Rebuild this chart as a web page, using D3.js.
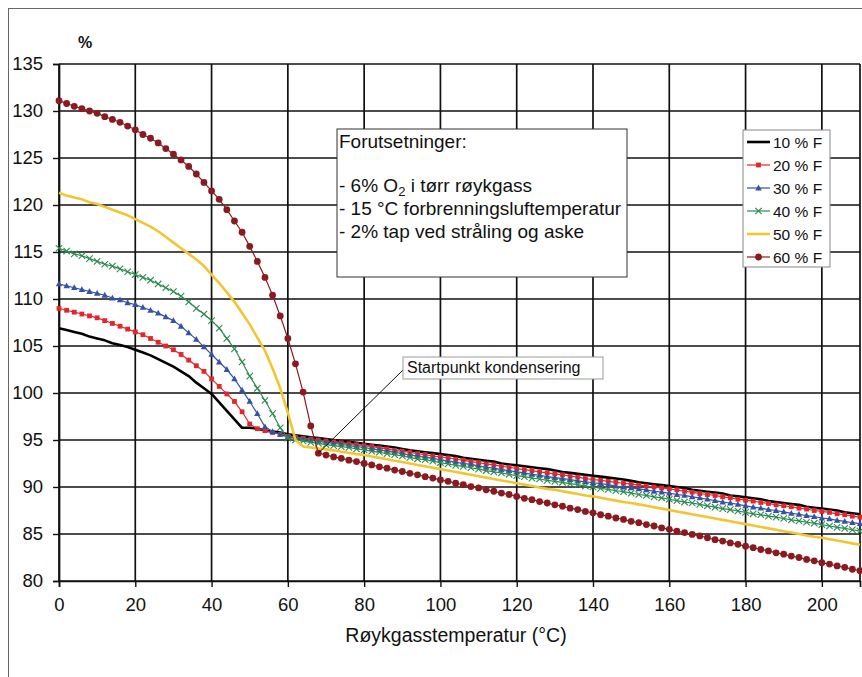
<!DOCTYPE html>
<html>
<head>
<meta charset="utf-8">
<script src="https://cdn.jsdelivr.net/npm/d3@7/dist/d3.min.js"></script>
<style>
  html, body { margin: 0; padding: 0; background: #fff; }
  svg { display: block; font-family: "Liberation Sans", Arial, sans-serif; }
</style>
</head>
<body>
<svg id="chart" width="862" height="677"></svg>
<script>
// Flue gas temperature, °C (one reading every 2 °C)
const temps = d3.range(0, 212, 2);

const yTicks = [80, 85, 90, 95, 100, 105, 110, 115, 120, 125, 130, 135];
const xTicks = [0, 20, 40, 60, 80, 100, 120, 140, 160, 180, 200];

const seriesNames = ["10 % F", "20 % F", "30 % F", "40 % F", "50 % F", "60 % F"];

// Efficiency (%) for each moisture content
const f10 = [106.9, 106.7, 106.5, 106.3, 106.0, 105.8, 105.6, 105.3, 105.1, 104.9, 104.6, 104.3, 104.0, 103.6, 103.2, 102.8, 102.3, 101.8, 101.1, 100.5, 99.9, 99.0, 98.1, 97.2, 96.3, 96.3, 96.2, 96.0, 95.9, 95.8, 95.6,
  95.5, 95.4, 95.3, 95.2, 95.1, 95.0, 94.9, 94.8, 94.7, 94.6, 94.5, 94.4, 94.3, 94.2, 94.05,
  93.9, 93.8, 93.7, 93.6, 93.5, 93.4, 93.3, 93.1, 93.0, 92.9, 92.8, 92.7, 92.5, 92.4, 92.3,
  92.2, 92.1, 92.0, 91.9, 91.75, 91.6, 91.5, 91.4, 91.3, 91.2, 91.1, 91.0, 90.9, 90.8, 90.65,
  90.5, 90.4, 90.3, 90.2, 90.1, 90.0, 89.9, 89.7, 89.6, 89.5, 89.4, 89.3, 89.1, 89.0, 88.9,
  88.8, 88.7, 88.5, 88.4, 88.3, 88.2, 88.1, 87.9, 87.8, 87.7, 87.6, 87.5, 87.3, 87.2, 87.1];

const f20 = [109.0, 108.8, 108.6, 108.4, 108.2, 108.0, 107.7, 107.4, 107.1, 106.8, 106.5, 106.2, 105.8, 105.4, 105.0, 104.6, 104.1, 103.5, 102.9, 102.3, 101.5, 100.7, 99.9, 99.1, 98.0, 96.7, 96.2, 96.0, 95.8, 95.6, 95.4,
  95.3, 95.2, 95.1, 95.0, 94.9, 94.8, 94.7, 94.6, 94.5, 94.4, 94.3, 94.15, 94.05, 93.9, 93.8,
  93.7, 93.55, 93.45, 93.3, 93.2, 93.1, 92.95, 92.85, 92.7, 92.6, 92.45, 92.35, 92.2, 92.1, 91.95,
  91.85, 91.75, 91.6, 91.5, 91.4, 91.3, 91.15, 91.05, 90.9, 90.8, 90.7, 90.6, 90.5, 90.4, 90.3,
  90.2, 90.1, 90.0, 89.9, 89.8, 89.7, 89.55, 89.45, 89.3, 89.2, 89.1, 88.95, 88.85, 88.7, 88.6,
  88.5, 88.35, 88.25, 88.1, 88.0, 87.9, 87.75, 87.65, 87.5, 87.4, 87.3, 87.15, 87.05, 86.9, 86.8];

const f30 = [111.6, 111.4, 111.2, 111.0, 110.8, 110.6, 110.4, 110.1, 109.9, 109.6, 109.4, 109.1, 108.8, 108.5, 108.1, 107.7, 107.1, 106.4, 105.7, 104.9, 104.1, 103.3, 102.5, 101.5, 100.3, 99.1, 97.8, 96.4, 95.9, 95.6, 95.3,
  95.2, 95.1, 95.0, 94.85, 94.75, 94.65, 94.55, 94.4, 94.3, 94.2, 94.05, 93.95, 93.8, 93.7, 93.55,
  93.4, 93.3, 93.15, 93.05, 92.9, 92.75, 92.65, 92.5, 92.4, 92.25, 92.1, 92.0, 91.85, 91.75, 91.6,
  91.5, 91.35, 91.25, 91.1, 91.0, 90.9, 90.8, 90.65, 90.55, 90.45, 90.35, 90.25, 90.1, 90.0, 89.9,
  89.8, 89.7, 89.55, 89.45, 89.35, 89.2, 89.1, 88.95, 88.85, 88.7, 88.55, 88.4, 88.3, 88.15, 88.0,
  87.85, 87.75, 87.6, 87.5, 87.35, 87.2, 87.1, 86.95, 86.85, 86.7, 86.6, 86.45, 86.35, 86.2, 86.1];

const f40 = [115.4, 115.1, 114.8, 114.6, 114.3, 114.0, 113.7, 113.5, 113.2, 112.9, 112.6, 112.3, 112.0, 111.6, 111.2, 110.8, 110.3, 109.7, 109.0, 108.4, 107.7, 106.9, 105.8, 104.7, 103.3, 101.8, 100.5, 99.2, 97.8, 96.3, 95.2, 95.0,
  94.9, 94.75, 94.65, 94.5, 94.4, 94.3, 94.2, 94.05, 93.95, 93.8, 93.7, 93.55, 93.45, 93.3,
  93.15, 93.0, 92.9, 92.75, 92.6, 92.45, 92.3, 92.2, 92.05, 91.9, 91.75, 91.6, 91.5, 91.35, 91.2,
  91.1, 90.95, 90.85, 90.7, 90.6, 90.5, 90.35, 90.25, 90.1, 90.0, 89.85, 89.75, 89.6, 89.5, 89.35,
  89.2, 89.1, 88.95, 88.85, 88.7, 88.55, 88.4, 88.3, 88.15, 88.0, 87.85, 87.7, 87.6, 87.45, 87.3,
  87.15, 87.05, 86.9, 86.8, 86.65, 86.5, 86.4, 86.25, 86.15, 86.0, 85.85, 85.7, 85.6, 85.45, 85.3];

const f50 = [121.3, 121.0, 120.8, 120.6, 120.3, 120.1, 119.8, 119.5, 119.2, 118.9, 118.5, 118.1, 117.7, 117.2, 116.6, 116.0, 115.4, 114.8, 114.2, 113.5, 112.6, 111.7, 110.7, 109.7, 108.5, 107.3, 105.9, 104.5, 102.6, 100.5, 97.9, 95.0, 94.3, 94.2,
  94.1, 94.0, 93.9, 93.75, 93.65, 93.5, 93.4,
  93.25, 93.1, 92.95, 92.8, 92.65, 92.5, 92.35, 92.2, 92.05, 91.9,
  91.75, 91.6, 91.45, 91.3, 91.15, 91.0, 90.85, 90.7, 90.55, 90.4,
  90.25, 90.1, 89.95, 89.8, 89.7, 89.55, 89.4, 89.25, 89.1, 89.0,
  88.85, 88.7, 88.55, 88.4, 88.3, 88.15, 88.0, 87.85, 87.7, 87.55,
  87.4, 87.25, 87.1, 86.95, 86.8, 86.65, 86.5, 86.35, 86.2, 86.05,
  85.9, 85.75, 85.6, 85.45, 85.3, 85.15, 85.0, 84.85, 84.7, 84.6,
  84.45, 84.3, 84.15, 84.0, 83.85];

const f60 = [131.1, 130.8, 130.5, 130.25, 130.0, 129.75, 129.4, 129.1, 128.8, 128.4, 128.0, 127.5, 127.1, 126.6, 126.0, 125.4, 124.8, 124.1, 123.3, 122.4, 121.5, 120.6, 119.5, 118.3, 117.1, 115.6, 114.0, 112.3, 110.4, 108.2, 105.8, 103.1, 100.1, 96.5, 93.6,
  93.4, 93.2, 93.05, 92.85, 92.7, 92.5, 92.35, 92.15, 92.0, 91.8, 91.65,
  91.45, 91.3, 91.1, 90.95, 90.75, 90.6, 90.4, 90.25, 90.05, 89.9,
  89.7, 89.55, 89.35, 89.2, 89.0, 88.8, 88.65, 88.45, 88.3, 88.1,
  87.95, 87.75, 87.6, 87.4, 87.25, 87.05, 86.9, 86.7, 86.55, 86.35,
  86.2, 86.0, 85.85, 85.65, 85.5, 85.3, 85.15, 84.95, 84.8, 84.6,
  84.4, 84.25, 84.05, 83.9, 83.7, 83.55, 83.35, 83.2, 83.0, 82.85,
  82.65, 82.5, 82.3, 82.15, 81.95, 81.8, 81.6, 81.45, 81.25, 81.1];

// Temperature where condensation starts for the wettest fuel
const startTemp = 68;

const svg = d3.select("#chart");
const W = 862, H = 677;

const x = d3.scaleLinear().domain([0, 210]).range([59, 860]);
const y = d3.scaleLinear().domain([80, 135]).range([581, 64]);

// outer frame
svg.append("rect").attr("x", 8.5).attr("y", 8.5).attr("width", W + 20).attr("height", H + 20)
  .attr("fill", "#fff").attr("stroke", "#666").attr("stroke-width", 1);

const grid = svg.append("g");
// horizontal grid lines
grid.selectAll("line.h").data(yTicks).join("line")
  .attr("x1", x(0)).attr("x2", x(210))
  .attr("y1", d => y(d)).attr("y2", d => y(d))
  .attr("stroke", "#111").attr("stroke-width", 1.7);
// vertical grid lines
grid.selectAll("line.v").data(xTicks.concat([210])).join("line")
  .attr("y1", y(80)).attr("y2", y(135))
  .attr("x1", d => x(d)).attr("x2", d => x(d))
  .attr("stroke", "#111").attr("stroke-width", 1.7);

// axes
const yAxis = d3.axisLeft(y).tickValues(yTicks).tickSize(6).tickPadding(10);
const gy = svg.append("g").attr("transform", `translate(${x(0)},0)`).call(yAxis);
const xAxis = d3.axisBottom(x).tickValues(xTicks).tickSize(6).tickPadding(11);
const gx = svg.append("g").attr("transform", `translate(0,${y(80)})`).call(xAxis);
[gx, gy].forEach(g => {
  g.select(".domain").attr("stroke", "#111").attr("stroke-width", 1.7);
  g.selectAll(".tick line").attr("stroke", "#111").attr("stroke-width", 1.4);
  g.selectAll(".tick text").attr("fill", "#111")
    .style("font-family", '"Liberation Sans", Arial, sans-serif').style("font-size", "18.5px");
});

svg.append("text").attr("x", 85).attr("y", 48).attr("text-anchor", "middle")
  .style("font-size", "16px").style("font-weight", "bold").attr("fill", "#111").text("%");

svg.append("text").attr("x", 456).attr("y", 642).attr("text-anchor", "middle")
  .style("font-size", "19.5px").attr("fill", "#111").text("Røykgasstemperatur (°C)");

// series styling
const series = [
  { name: seriesNames[0], values: f10, color: "#000000", width: 2.6, marker: null },
  { name: seriesNames[1], values: f20, color: "#e3262b", width: 1.2, marker: "square" },
  { name: seriesNames[2], values: f30, color: "#3553a6", width: 1.2, marker: "triangle" },
  { name: seriesNames[3], values: f40, color: "#2c8a4e", width: 1.2, marker: "cross" },
  { name: seriesNames[4], values: f50, color: "#f2c531", width: 2.6, marker: null },
  { name: seriesNames[5], values: f60, color: "#8a1a1f", width: 1.2, marker: "circle" }
];

function drawMarker(g, type, color, cx, cy) {
  if (type === "square") {
    g.append("rect").attr("x", cx - 2.4).attr("y", cy - 2.4).attr("width", 4.8).attr("height", 4.8).attr("fill", color);
  } else if (type === "triangle") {
    g.append("path").attr("d", `M${cx},${cy - 3.4}L${cx + 3.2},${cy + 2.4}L${cx - 3.2},${cy + 2.4}Z`).attr("fill", color);
  } else if (type === "cross") {
    g.append("path").attr("d", `M${cx - 3.2},${cy - 3.2}L${cx + 3.2},${cy + 3.2}M${cx - 3.2},${cy + 3.2}L${cx + 3.2},${cy - 3.2}`)
      .attr("stroke", color).attr("stroke-width", 1.1).attr("fill", "none");
  } else if (type === "circle") {
    g.append("circle").attr("cx", cx).attr("cy", cy).attr("r", 3.4).attr("fill", color);
  }
}

const line = d3.line().x((d, i) => x(temps[i])).y(d => y(d));
const plot = svg.append("g");
series.forEach(s => {
  const g = plot.append("g");
  g.append("path").datum(s.values).attr("d", line)
    .attr("fill", "none").attr("stroke", s.color).attr("stroke-width", s.width).attr("stroke-linejoin", "round");
  if (s.marker) {
    s.values.forEach((v, i) => drawMarker(g, s.marker, s.color, x(temps[i]), y(v)));
  }
});

// assumptions box
const ab = svg.append("g");
ab.append("rect").attr("x", 337).attr("y", 129).attr("width", 290).attr("height", 148)
  .attr("fill", "#fff").attr("stroke", "#333").attr("stroke-width", 1);
const abText = ab.append("g").style("font-size", "19px").attr("fill", "#111");
abText.append("text").attr("x", 339).attr("y", 148).text("Forutsetninger:");
const l1 = abText.append("text").attr("x", 339).attr("y", 192);
l1.append("tspan").text("- 6% O");
l1.append("tspan").attr("dy", 4).style("font-size", "13px").text("2");
l1.append("tspan").attr("dy", -4).text(" i tørr røykgass");
abText.append("text").attr("x", 339).attr("y", 215).text("- 15 °C forbrenningsluftemperatur");
abText.append("text").attr("x", 339).attr("y", 238).text("- 2% tap ved stråling og aske");

// legend
const lg = svg.append("g");
lg.append("rect").attr("x", 743).attr("y", 130).attr("width", 87).attr("height", 137)
  .attr("fill", "#fff").attr("stroke", "#888").attr("stroke-width", 1);
series.forEach((s, i) => {
  const cy = 142 + i * 23;
  lg.append("line").attr("x1", 747).attr("x2", 770).attr("y1", cy).attr("y2", cy)
    .attr("stroke", s.color).attr("stroke-width", s.marker ? 1.2 : 2.6);
  if (s.marker) drawMarker(lg, s.marker, s.color, 758.5, cy);
  lg.append("text").attr("x", 773).attr("y", cy + 5.5).style("font-size", "15.5px").attr("fill", "#111").text(s.name);
});

// condensation start callout
const si = temps.indexOf(startTemp);
svg.append("line").attr("x1", 403).attr("y1", 370).attr("x2", x(startTemp)).attr("y2", y(f60[si]))
  .attr("stroke", "#111").attr("stroke-width", 1);
svg.append("rect").attr("x", 403).attr("y", 357).attr("width", 200).attr("height", 22)
  .attr("fill", "#fff").attr("stroke", "#999").attr("stroke-width", 1);
svg.append("text").attr("x", 407).attr("y", 373).style("font-size", "16px").attr("fill", "#111").text("Startpunkt kondensering");
</script>
</body>
</html>
